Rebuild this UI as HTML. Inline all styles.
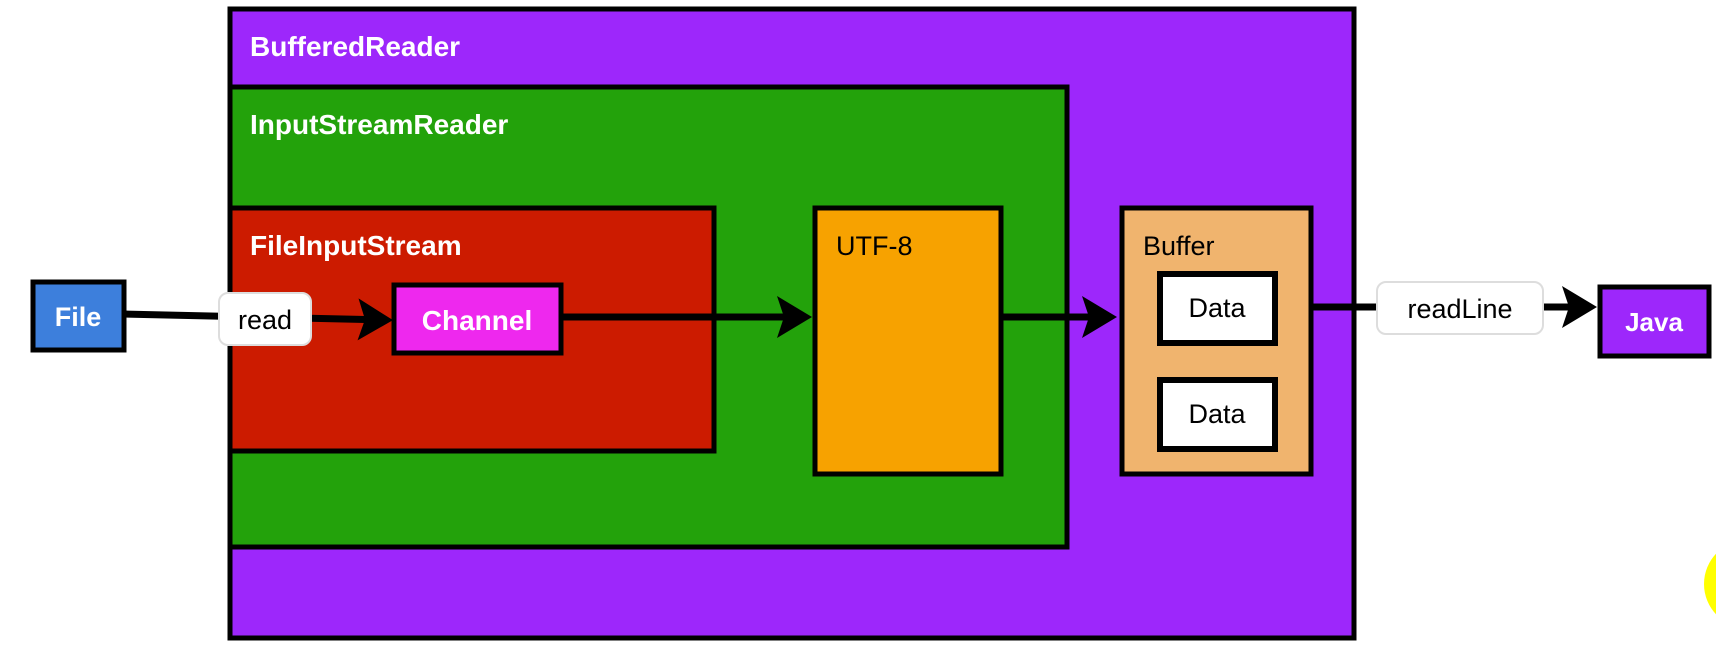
<!DOCTYPE html>
<html><head><meta charset="utf-8"><style>
html,body{margin:0;padding:0;background:#fff;}
svg{display:block;}
text{font-family:"Liberation Sans",sans-serif;font-weight:bold;}
</style></head><body>
<svg width="1716" height="664" viewBox="0 0 1716 664">
<defs>
<marker id="ah" markerWidth="5" markerHeight="6" refX="4" refY="3" orient="auto" markerUnits="strokeWidth"><path d="M0,0 L5,3 L0,6 L1,3 Z" fill="#000"/></marker>
</defs>
<g>
<rect x="230" y="9" width="1124" height="629" fill="#9d27fb" stroke="#000" stroke-width="5"/>
<text x="250" y="56" font-size="28" fill="#fff">BufferedReader</text>
</g>
<g>
<rect x="230" y="87" width="837" height="460" fill="#23a20b" stroke="#000" stroke-width="5"/>
<text x="250" y="134" font-size="28" fill="#fff">InputStreamReader</text>
</g>
<g>
<rect x="230" y="208" width="484" height="243" fill="#cc1b00" stroke="#000" stroke-width="5"/>
<text x="250" y="255" font-size="28" fill="#fff">FileInputStream</text>
</g>
<g>
<rect x="815" y="208" width="186" height="266" fill="#f7a200" stroke="#000" stroke-width="5"/>
<text x="836" y="255" font-size="27" fill="#000" style="font-weight:normal">UTF-8</text>
</g>
<g>
<rect x="1122" y="208" width="189" height="266" fill="#f0b46e" stroke="#000" stroke-width="5"/>
<text x="1143" y="255" font-size="27" fill="#000" style="font-weight:normal">Buffer</text>
<rect x="1160" y="274" width="115" height="69" fill="#fff" stroke="#000" stroke-width="6"/>
<text x="1217" y="317" font-size="27" fill="#000" text-anchor="middle" style="font-weight:normal">Data</text>
<rect x="1160" y="380" width="115" height="69" fill="#fff" stroke="#000" stroke-width="6"/>
<text x="1217" y="423" font-size="27" fill="#000" text-anchor="middle" style="font-weight:normal">Data</text>
</g>
<line x1="124" y1="314" x2="386" y2="320" stroke="#000" stroke-width="7" marker-end="url(#ah)"/>
<line x1="561" y1="317" x2="805" y2="317" stroke="#000" stroke-width="7" marker-end="url(#ah)"/>
<line x1="1001" y1="317" x2="1110" y2="317" stroke="#000" stroke-width="7" marker-end="url(#ah)"/>
<line x1="1311" y1="307" x2="1590" y2="307" stroke="#000" stroke-width="7" marker-end="url(#ah)"/>
<g>
<rect x="33" y="282" width="91" height="68" fill="#3d7fdc" stroke="#000" stroke-width="5"/>
<text x="78" y="326" font-size="27" fill="#fff" text-anchor="middle">File</text>
</g>
<g>
<rect x="219" y="293" width="92" height="52" rx="9" fill="#fff" stroke="#ddd" stroke-width="2"/>
<text x="265" y="329" font-size="27" fill="#000" text-anchor="middle" style="font-weight:normal">read</text>
</g>
<g>
<rect x="394" y="285" width="167" height="68" fill="#ee28ee" stroke="#000" stroke-width="5"/>
<text x="477" y="330" font-size="28" fill="#fff" text-anchor="middle">Channel</text>
</g>
<g>
<rect x="1377" y="282" width="166" height="52" rx="9" fill="#fff" stroke="#ddd" stroke-width="2"/>
<text x="1460" y="318" font-size="27" fill="#000" text-anchor="middle" style="font-weight:normal">readLine</text>
</g>
<g>
<rect x="1600" y="287" width="109" height="69" fill="#9d27fb" stroke="#000" stroke-width="5"/>
<text x="1654" y="331" font-size="26" fill="#fff" text-anchor="middle">Java</text>
</g>
<circle cx="1748" cy="584" r="44" fill="#ffff00"/>
</svg>
</body></html>
